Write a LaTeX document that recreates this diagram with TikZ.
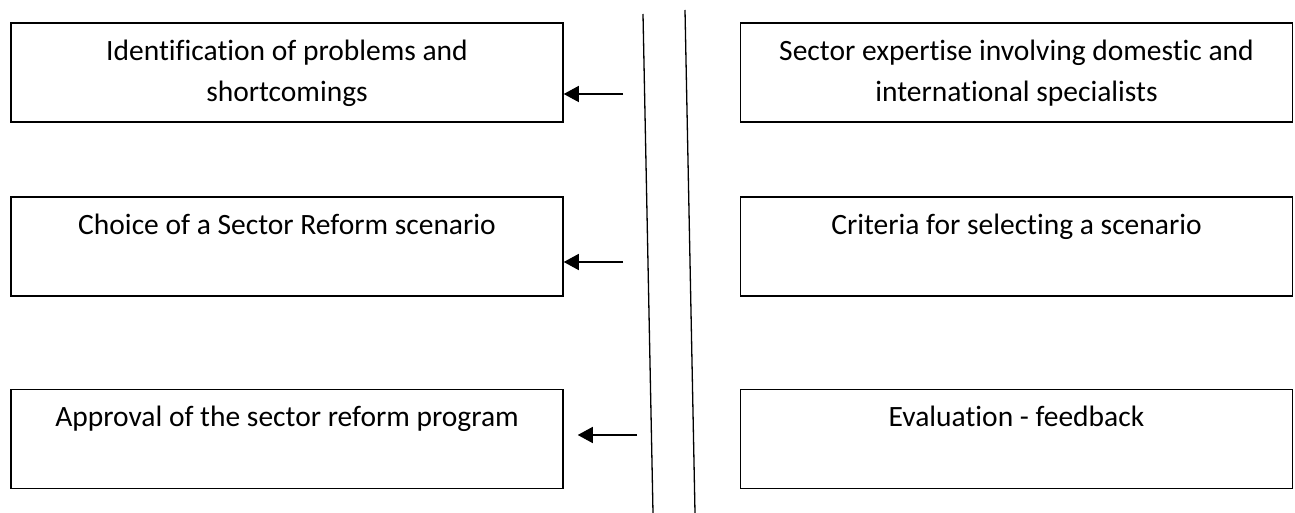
\documentclass[tikz,border=0pt]{standalone}
\usepackage{fontspec}
\setmainfont{Carlito}[Ligatures=CommonOff]
\usetikzlibrary{arrows.meta,positioning}
\begin{document}
\begin{tikzpicture}[x=0.5pt,y=-0.5pt,>={Triangle[length=7.5pt,width=8pt]},node distance=2cm,on grid]
				  \useasboundingbox (0,0) rectangle (1295,513);
				  \tikzset{mybox/.style={draw,line width=0.75pt,minimum width=276pt,minimum height=49.5pt,inner sep=0pt,align=center,font=\fontsize{14.75}{20.5}\selectfont}}
				  \node[mybox]          (ident) at (287,72.5)          {\strut Identification of problems and\\\strut shortcomings};
				  \node[mybox]          (choice) [below =87pt of ident]     {\strut Choice of a Sector Reform scenario\\\strut};
				  \node[mybox]          (approv) [below =96.25pt of choice] {\strut Approval of the sector reform program\\\strut};
				  \node[mybox]          (expert) [right =364.75pt of ident]  {\strut Sector expertise involving domestic and\\\strut international specialists};
				  \node[mybox]          (crit) [right =364.75pt of choice]   {\strut Criteria for selecting a scenario\\\strut};
				  \node[mybox]          (eval) [right =364.75pt of approv]   {\strut Evaluation - feedback\\\strut};

				  % the two dividing lines
				  \coordinate (top1) at (643,14);
				  \coordinate (bot1) at (653,513);
				  \coordinate (top2) at (685,10);
				  \coordinate (bot2) at (695,513);
				  \draw[line width=0.65pt] (top1) -- (bot1);
				  \draw[line width=0.65pt] (top2) -- (bot2);

				  \coordinate (from1) at (623,94);
				  \coordinate (from2) at (623,262);
				  \coordinate (from3) at (637,435);
				\tikzset{myarrow/.style={->,line width=0.65pt}}
				\draw[myarrow] (from1) -- (from1 -| ident.east);
				\draw[myarrow] (from2) -- (from2 -| choice.east);
				\draw[myarrow,shorten >=7pt] (from3) -- (from3 -| approv.east);
			\end{tikzpicture}
\end{document}
